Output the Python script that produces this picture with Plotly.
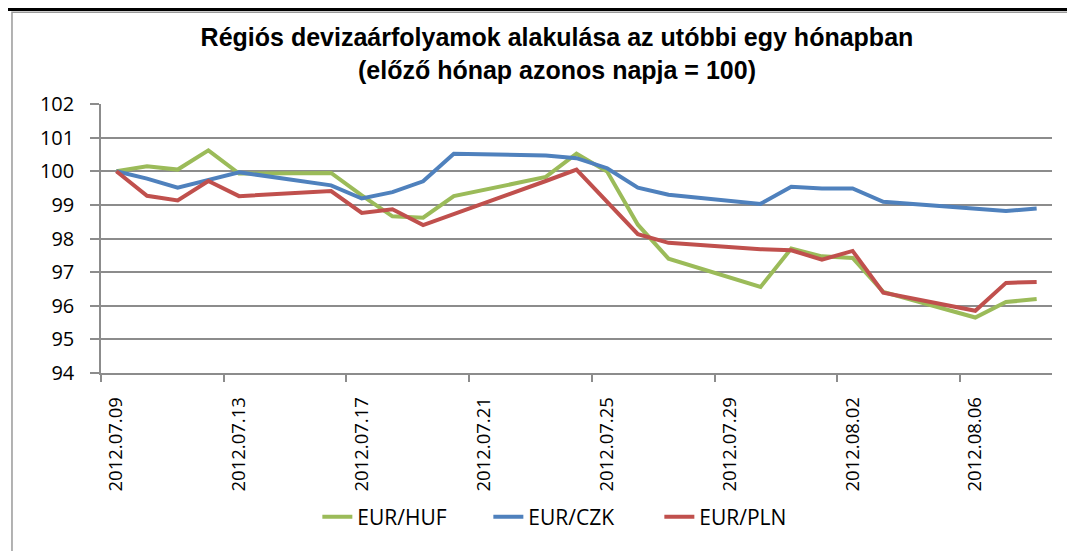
import plotly.graph_objects as go

dates = ["2012-07-09", "2012-07-10", "2012-07-11", "2012-07-12", "2012-07-13",
         "2012-07-16", "2012-07-17", "2012-07-18", "2012-07-19", "2012-07-20",
         "2012-07-23", "2012-07-24", "2012-07-25", "2012-07-26", "2012-07-27",
         "2012-07-30", "2012-07-31", "2012-08-01", "2012-08-02", "2012-08-03",
         "2012-08-06", "2012-08-07", "2012-08-08"]

eur_huf = [100.00, 100.15, 100.05, 100.62, 99.93,
           99.95, 99.28, 98.66, 98.62, 99.26,
           99.83, 100.52, 99.99, 98.41, 97.40,
           96.56, 97.70, 97.47, 97.42, 96.41,
           95.65, 96.11, 96.20]

eur_czk = [100.00, 99.78, 99.51, 99.75, 99.97,
           99.58, 99.19, 99.38, 99.70, 100.52,
           100.47, 100.39, 100.09, 99.51, 99.30,
           99.03, 99.54, 99.49, 99.49, 99.09,
           98.90, 98.82, 98.89]

eur_pln = [100.00, 99.27, 99.13, 99.71, 99.26,
           99.41, 98.76, 98.87, 98.40, 98.72,
           99.71, 100.05, 99.10, 98.13, 97.87,
           97.68, 97.65, 97.37, 97.63, 96.39,
           95.85, 96.68, 96.71]

series_names = ["EUR/HUF", "EUR/CZK", "EUR/PLN"]
series_colors = ["#9BBB59", "#4F81BD", "#C0504D"]

tick_dates = ["2012-07-09", "2012-07-13", "2012-07-17", "2012-07-21",
              "2012-07-25", "2012-07-29", "2012-08-02", "2012-08-06"]
tick_labels = ["2012.07.09", "2012.07.13", "2012.07.17", "2012.07.21",
               "2012.07.25", "2012.07.29", "2012.08.02", "2012.08.06"]

FONT = "Open Sans, Liberation Sans, Arial, sans-serif"
GRID = "#8C8C8C"

fig = go.Figure()
for name, vals, col in zip(series_names, [eur_huf, eur_czk, eur_pln], series_colors):
    fig.add_trace(go.Scatter(x=dates, y=vals, mode="lines", name=name,
                             line=dict(color=col, width=4)))

fig.update_layout(
    width=1067, height=543,
    margin=dict(l=93, r=23, t=96, b=178),
    paper_bgcolor="white", plot_bgcolor="white",
    font=dict(family=FONT, size=20, color="black"),
    title=dict(
        text="<b>Régiós devizaárfolyamok alakulása az utóbbi egy hónapban<br>(előző hónap azonos napja = 100)</b>",
        x=0.5145, xanchor="center", y=0.930, yanchor="middle",
        xref="container", yref="container",
        font=dict(family="Liberation Sans, Arial, sans-serif", size=25, color="black")),
    legend=dict(orientation="h", x=0.2275, xanchor="left", y=-0.536, yanchor="middle",
                font=dict(size=21), entrywidth=126, bgcolor="rgba(0,0,0,0)"),
    showlegend=True,
)

fig.update_xaxes(
    type="date",
    range=["2012-07-08 12:00", "2012-08-08 12:00"],
    tickvals=tick_dates, ticktext=tick_labels, tickangle=-90,
    tickfont=dict(size=18.5),
    ticks="", ticklabelstandoff=15,
    showline=True, linecolor=GRID, linewidth=1.5,
    showgrid=False, zeroline=False,
    minor=dict(ticks="outside", ticklen=7, tickwidth=1.5, tickcolor=GRID,
               tick0="2012-07-08 12:00", dtick=4 * 86400000, showgrid=False),
)
fig.update_yaxes(
    range=[94, 102], dtick=1, tick0=94,
    tickfont=dict(size=20),
    ticks="outside", ticklen=9, tickwidth=1.5, tickcolor=GRID,
    ticklabelstandoff=12,
    showline=True, linecolor=GRID, linewidth=1.5,
    showgrid=True, gridcolor=GRID, gridwidth=1.5, zeroline=False,
)

# chart frame and page rule
fig.add_shape(type="rect", xref="paper", yref="paper",
              x0=-0.0936, x1=1.2, y0=-0.8, y1=1.341,
              line=dict(color="#9A9A9A", width=1.5), layer="below")
fig.add_shape(type="line", xref="paper", yref="paper",
              x0=-0.2, x1=1.2, y0=1.3525, y1=1.3525,
              line=dict(color="black", width=3.5))

fig.write_html("out.html")
